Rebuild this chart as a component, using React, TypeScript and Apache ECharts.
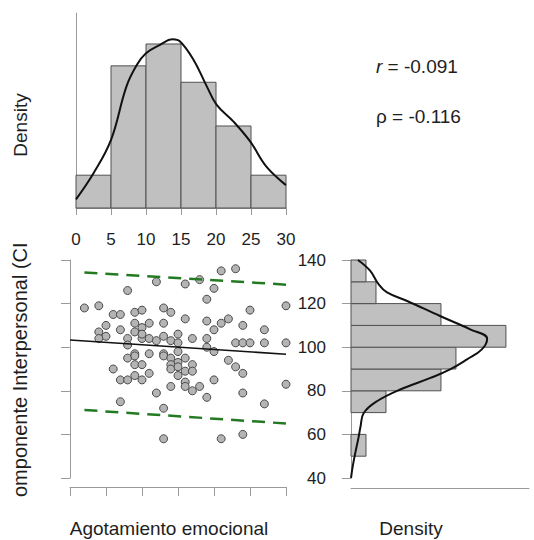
import { useEffect, useRef } from "react";
import * as echarts from "echarts";

const FONT = '"Liberation Sans", Arial, Helvetica, sans-serif';
const INK = "#1e1e1e";
const AXIS = "#9a9a9a";

// Agotamiento emocional histogram (bin edges and counts)
const xBinEdges = [0, 5, 10, 15, 20, 25, 30];
const xBinCounts = [6, 26, 30, 23, 15, 6];
// Componente Interpersonal histogram
const yBinEdges = [50, 60, 70, 80, 90, 100, 110, 120, 130, 140];
const yBinCounts = [3, 0, 7, 18, 21, 31, 18, 5, 3];
const sampleSize = 106;

// kernel density estimates: [x, density] and [density, y]
const xDensity = [
  [0, 0.003], [2.5, 0.012], [5, 0.0235], [7.2, 0.0419], [8.7, 0.0494], [10, 0.0534],
  [12, 0.0563], [13.8, 0.0582], [14.9, 0.0574], [16.8, 0.0511], [18.7, 0.0419],
  [20.1, 0.0356], [22.5, 0.0298], [24.9, 0.0229], [27.2, 0.0143], [30, 0.0079],
];
const yDensity = [
  [0, 40], [0.0003, 45], [0.0008, 51.4], [0.0014, 58.3], [0.0018, 63.6], [0.0024, 69.8],
  [0.0049, 75.2], [0.0093, 80.6], [0.015, 85.9], [0.0187, 89.8], [0.0219, 94.4],
  [0.0247, 99], [0.0257, 103.9], [0.0225, 108.2], [0.0168, 114.3], [0.0106, 121.2],
  [0.0068, 125.1], [0.0052, 128.9], [0.0036, 135.1], [0.0013, 140],
];

// paired observations
const agotamiento = [
  23, 21, 18, 12, 16, 20, 8, 19, 2, 4, 13, 14, 9, 10, 6, 7, 25, 30, 16, 19,
  21, 22, 5, 9, 11, 13, 10, 24, 7, 9, 4, 20, 27, 5, 4, 8, 10, 11, 12, 13,
  14, 15, 15, 17, 19, 23, 24, 25, 27, 30, 8, 19, 20, 9, 11, 13, 15, 8, 9, 13,
  14, 16, 22, 15, 9, 10, 14, 17, 23, 6, 14, 15, 16, 17, 24, 11, 15, 9, 7, 8,
  10, 16, 20, 30, 16, 14, 18, 17, 12, 24, 19, 7, 27, 13, 13, 21, 24, 10,
];
const interpersonal = [
  136, 135, 131, 130, 129, 127, 126, 122, 118, 119, 118, 116, 116, 117, 115, 115, 117, 119, 113, 112,
  111, 113, 110, 111, 111, 111, 109, 110, 108, 107, 107, 108, 108, 105, 104, 104, 104, 104, 103, 105,
  103, 106, 102, 104, 104, 102, 102, 102, 102, 102, 101, 100, 98, 97, 97, 97, 98, 95, 96, 96,
  95, 95, 94, 93, 92, 92, 92, 92, 91, 90, 90, 91, 89, 89, 88, 88, 87, 87, 85, 85,
  85, 84, 85, 83, 82, 82, 82, 80, 79, 79, 77, 75, 74, 72, 58, 58, 60, 106,
];

// fitted line and prediction band ends
const fitLine = [[0, 103.3], [30, 96.8]];
const upperBand = [[2, 134.3], [30, 128.7]];
const lowerBand = [[2, 71.2], [30, 65]];

const xTicks = { min: 0, max: 30, interval: 5 };
const yTicks = { min: 40, max: 140, interval: 20 };

export default function App() {
  const ref = useRef<HTMLDivElement>(null);

  useEffect(() => {
    if (!ref.current) return;
    const chart = echarts.init(ref.current, undefined, { renderer: "svg" });

    const xHist = xBinCounts.map((c, i) => [
      xBinEdges[i], xBinEdges[i + 1], c / (sampleSize * (xBinEdges[i + 1] - xBinEdges[i])),
    ]);
    const yHist = yBinCounts
      .map((c, i) => [yBinEdges[i], yBinEdges[i + 1], c / (sampleSize * (yBinEdges[i + 1] - yBinEdges[i]))])
      .filter((d) => d[2] > 0);
    const points = agotamiento.map((v, i) => [v, interpersonal[i]]);

    const barStyle = { fill: "#c0c0c0", stroke: "#505050", lineWidth: 1 };
    const lineAxis = { show: true, lineStyle: { color: AXIS, width: 1 } };
    const tickAxis = { show: true, lineStyle: { color: AXIS, width: 1 } };

    chart.setOption({
      animation: false,
      textStyle: { fontFamily: FONT },
      grid: [
        { left: 76, top: 13, width: 210, height: 195 },
        { left: 70, top: 260, width: 216, height: 218 },
        { left: 351, top: 260, width: 178, height: 218 },
      ],
      xAxis: [
        {
          gridIndex: 0, type: "value", ...xTicks, offset: 10,
          axisLine: lineAxis, axisTick: { ...tickAxis, length: 7 },
          axisLabel: { fontSize: 17, color: INK, margin: 13, fontFamily: FONT },
          splitLine: { show: false },
        },
        {
          gridIndex: 1, type: "value", ...xTicks, offset: 9,
          axisLine: lineAxis, axisTick: { ...tickAxis, length: 9 },
          axisLabel: { show: false }, splitLine: { show: false },
        },
        {
          gridIndex: 2, type: "value", min: 0, max: 0.0336, offset: 10,
          axisLine: lineAxis, axisTick: { show: false },
          axisLabel: { show: false }, splitLine: { show: false },
        },
      ],
      yAxis: [
        {
          gridIndex: 0, type: "value", min: 0, max: 0.0673, offset: 11,
          axisLine: lineAxis, axisTick: { show: false },
          axisLabel: { show: false }, splitLine: { show: false },
        },
        {
          gridIndex: 1, type: "value", ...yTicks, offset: 12,
          axisLine: lineAxis, axisTick: { ...tickAxis, length: 9 },
          axisLabel: { show: false }, splitLine: { show: false },
        },
        {
          gridIndex: 2, type: "value", ...yTicks, offset: 9,
          axisLine: lineAxis, axisTick: { ...tickAxis, length: 9 },
          axisLabel: { fontSize: 17, color: INK, margin: 16, fontFamily: FONT },
          splitLine: { show: false },
        },
      ],
      series: [
        {
          type: "custom", xAxisIndex: 0, yAxisIndex: 0, data: xHist,
          encode: { x: [0, 1], y: 2 },
          renderItem: (_p: any, api: any) => {
            const tl = api.coord([api.value(0), api.value(2)]);
            const br = api.coord([api.value(1), 0]);
            return {
              type: "rect",
              shape: { x: tl[0], y: tl[1], width: br[0] - tl[0], height: br[1] - tl[1] },
              style: barStyle,
            };
          },
        },
        {
          type: "line", xAxisIndex: 0, yAxisIndex: 0, data: xDensity, smooth: 0.4,
          showSymbol: false, lineStyle: { color: "#111", width: 2 }, z: 5,
        },
        {
          type: "custom", xAxisIndex: 2, yAxisIndex: 2, data: yHist,
          encode: { x: 2, y: [0, 1] },
          renderItem: (_p: any, api: any) => {
            const tl = api.coord([0, api.value(1)]);
            const br = api.coord([api.value(2), api.value(0)]);
            return {
              type: "rect",
              shape: { x: tl[0], y: tl[1], width: br[0] - tl[0], height: br[1] - tl[1] },
              style: barStyle,
            };
          },
        },
        {
          type: "line", xAxisIndex: 2, yAxisIndex: 2, data: yDensity, smooth: 0.4,
          showSymbol: false, lineStyle: { color: "#111", width: 2 }, z: 5,
        },
        {
          type: "scatter", xAxisIndex: 1, yAxisIndex: 1, data: points, symbolSize: 8,
          clip: false,
          itemStyle: { color: "#b4b4b4", borderColor: "#4a4a4a", borderWidth: 1, opacity: 1 },
        },
        {
          type: "line", xAxisIndex: 1, yAxisIndex: 1, data: fitLine, showSymbol: false,
          lineStyle: { color: "#111", width: 1.6 }, z: 4,
        },
        {
          type: "line", xAxisIndex: 1, yAxisIndex: 1, data: upperBand, showSymbol: false,
          lineStyle: { color: "#237a23", width: 2.5, type: [13, 8] }, z: 4,
        },
        {
          type: "line", xAxisIndex: 1, yAxisIndex: 1, data: lowerBand, showSymbol: false,
          lineStyle: { color: "#237a23", width: 2.5, type: [13, 8] }, z: 4,
        },
      ],
      graphic: [
        {
          type: "text", x: 20, y: 125, rotation: Math.PI / 2,
          style: { text: "Density", fontSize: 19, fontFamily: FONT, fill: INK, align: "center", verticalAlign: "middle" },
        },
        {
          type: "text", x: 20, y: 373.6, rotation: Math.PI / 2, z: 10,
          style: {
            text: "Componente Interpersonal (CI)", fontSize: 20, fontFamily: FONT, fill: INK,
            align: "center", verticalAlign: "middle",
          },
        },
        // the y title is wider than its panel: mask the overflow on both ends
        { type: "rect", z: 20, shape: { x: 0, y: 200, width: 46, height: 43.5 }, style: { fill: "#fff" } },
        { type: "rect", z: 20, shape: { x: 0, y: 497, width: 46, height: 43 }, style: { fill: "#fff" } },
        {
          type: "text", x: 169, y: 528,
          style: { text: "Agotamiento emocional", fontSize: 19, fontFamily: FONT, fill: INK, align: "center", verticalAlign: "middle" },
        },
        {
          type: "text", x: 411, y: 528,
          style: { text: "Density", fontSize: 19, fontFamily: FONT, fill: INK, align: "center", verticalAlign: "middle" },
        },
        {
          type: "text", x: 376, y: 66,
          style: {
            text: "{i|r} = -0.091", fontSize: 19, fontFamily: FONT, fill: INK, verticalAlign: "middle",
            rich: { i: { fontStyle: "italic", fontSize: 19, fontFamily: FONT, fill: INK } },
          },
        },
        {
          type: "text", x: 376, y: 116,
          style: { text: "ρ = -0.116", fontSize: 19, fontFamily: FONT, fill: INK, verticalAlign: "middle" },
        },
      ],
    });

    return () => chart.dispose();
  }, []);

  return (
    <div
      ref={ref}
      style={{ position: "absolute", left: 0, top: 0, width: 534, height: 540, background: "#fff" }}
    />
  );
}
